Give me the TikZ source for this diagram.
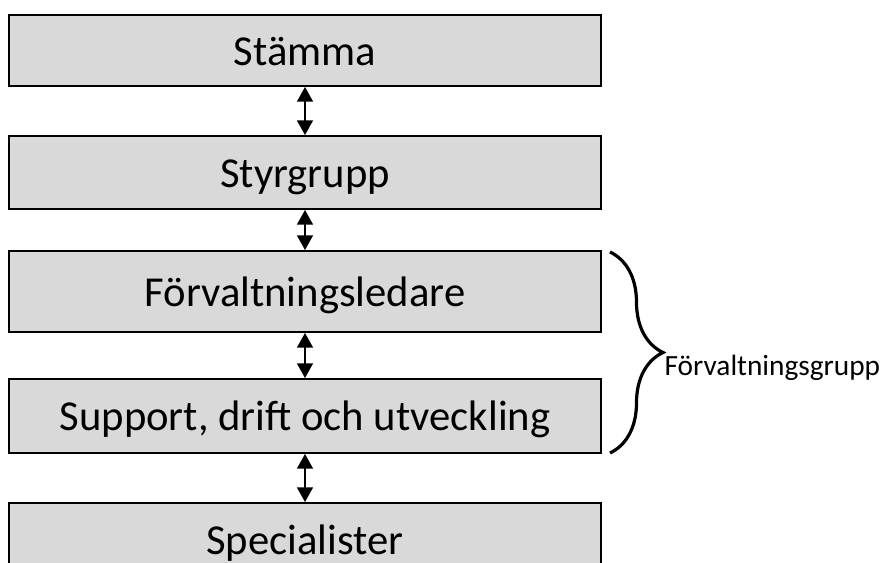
\documentclass[tikz,border=0pt]{standalone}
\usepackage{fontspec}
\setmainfont{Carlito}
\usetikzlibrary{arrows.meta,decorations.pathreplacing}
\begin{document}
\begin{tikzpicture}[x=0.75pt,y=-0.75pt,
  main node/.style={rectangle,draw=black,fill=black!15,line width=1.5pt,
    minimum width=444pt,text height=26pt,text depth=4pt,font=\fontsize{32}{38}\selectfont},
  link/.style={{Triangle[length=11pt,width=12pt]}-{Triangle[length=11pt,width=12pt]},line width=1.1pt}]

  \useasboundingbox (0,0) rectangle (883,563);
  \clip (0,0) rectangle (883,563);

  \node[main node,minimum height=53.25pt] (1) at (305,50.5) {Stämma};
  \node[main node,minimum height=54.75pt] (2) at (305,172.5) {Styrgrupp};
  \node[main node,minimum height=60.75pt] (3) at (305,291.5) {Förvaltningsledare};
  \node[main node,minimum height=55.5pt] (4) at (305,416) {Support, drift och utveckling};
  \node[main node,minimum height=54.75pt] (5) at (305,539.5) {Specialister};

  \path[link]
   (1) edge (2)
   (2) edge (3)
   (3) edge (4)
   (4) edge (5);

  % brace round the group
  \coordinate (top) at (610,252);
  \coordinate (bottom) at (610,453);
  \draw[line width=2.4pt,decorate,decoration={brace,amplitude=39.75pt}] (top) -- (bottom);
  \node[anchor=west,inner sep=1pt,font=\fontsize{22}{26}\selectfont] (group) at (663,368) {Förvaltningsgrupp};
\end{tikzpicture}
\end{document}
